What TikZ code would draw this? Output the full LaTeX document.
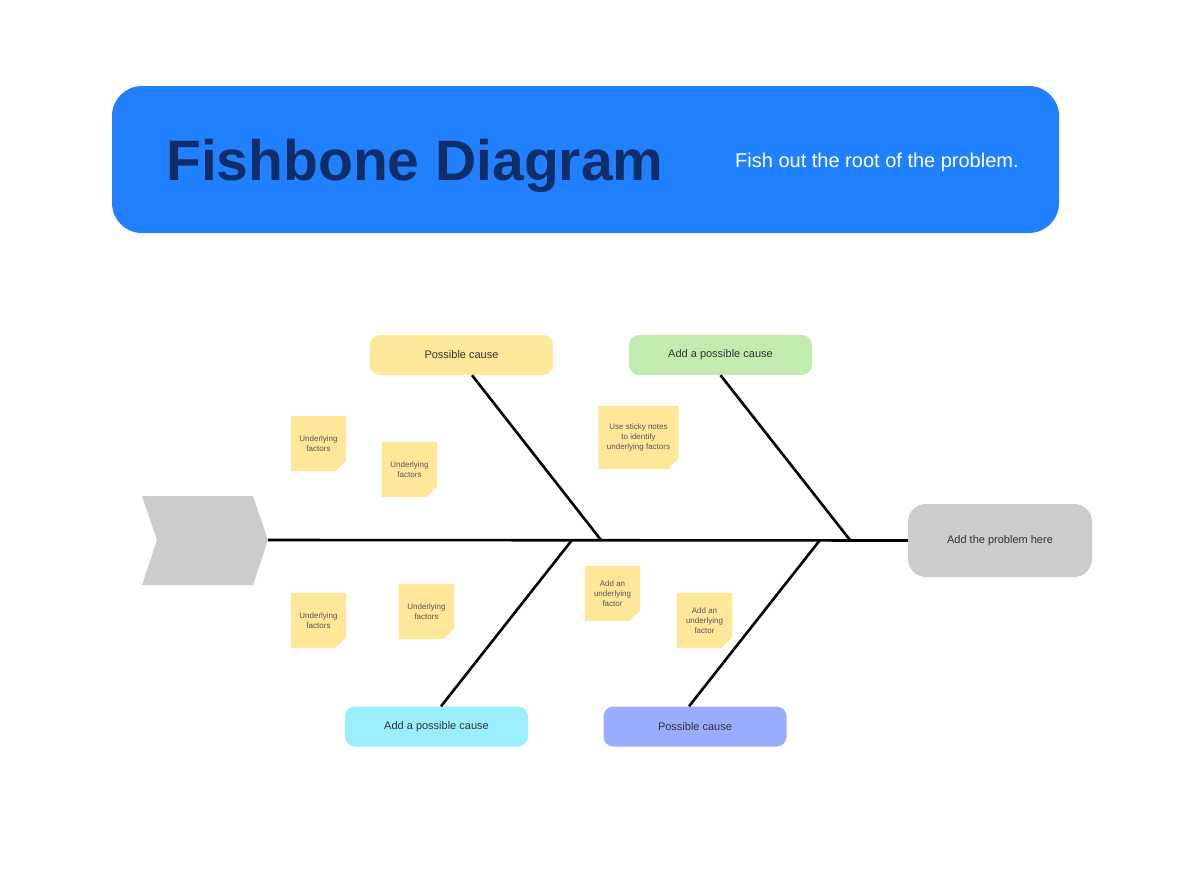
\documentclass[tikz,border=0pt]{standalone}
\usepackage{fontspec}
\setmainfont{Liberation Sans}
\usetikzlibrary{backgrounds}
\definecolor{titleblue}{HTML}{2180FF}
\definecolor{titlenavy}{HTML}{0F2D66}
\definecolor{stickyc}{HTML}{FFE699}
\definecolor{causeyellow}{HTML}{FFE89A}
\definecolor{causegreen}{HTML}{C2EBB0}
\definecolor{causecyan}{HTML}{9AEEFF}
\definecolor{causeblue}{HTML}{9AACFF}
\definecolor{shapegray}{HTML}{CCCCCC}
\definecolor{textgray}{HTML}{333333}
\definecolor{notegray}{HTML}{555555}
\newcommand\stickynote[6]{%
  \node[sticky, minimum width=#4, minimum height=#5] (#1) at (#2,#3) {#6};
  \begin{scope}[on background layer]
    \fill[stickyc] (#1.north west) -- (#1.north east) -- ([yshift=11pt]#1.south east) -- ([xshift=-11pt]#1.south east) -- (#1.south west) -- cycle;
  \end{scope}}
\begin{document}
\begin{tikzpicture}[x=1pt,y=-1pt,
  causebox/.style={rounded corners=10pt, minimum width=183pt, minimum height=40pt, inner sep=0pt, font=\fontsize{11}{13}\selectfont, text=textgray},
  sticky/.style={inner sep=0pt, align=center, font=\fontsize{8}{10.3}\selectfont, text=notegray},
  bone/.style={line width=2.6pt, black}]
\begin{scope}[on background layer]
  \fill[white] (0,0) rectangle (1200,887);
\end{scope}
\useasboundingbox (0,0) rectangle (1200,887);
% title banner
\node[fill=titleblue, rounded corners=30pt, minimum width=947pt, minimum height=147pt, inner sep=0pt] (banner) at (585.5,159.5) {};
\node[anchor=base west, inner sep=0pt, font=\fontsize{57}{60}\selectfont\bfseries, text=titlenavy] (title) at (166,180) {Fishbone Diagram};
\node[anchor=west, inner sep=0pt, font=\fontsize{20}{22}\selectfont, text=white] (subtitle) at (735,162) {Fish out the root of the problem.};
% tail
\fill[shapegray] (142,496) -- (253,496) -- (268,540) -- (253,585) -- (142,585) -- (157,540) -- cycle;
\coordinate (tail) at (268,540);
% problem
\node[fill=shapegray, rounded corners=18pt, minimum width=184pt, minimum height=73pt, inner sep=0pt, font=\fontsize{11}{13}\selectfont, text=textgray] (problem) at (1000,540.5) {Add the problem here};
% causes
\node[causebox, fill=causeyellow] (c1) at (461.5,355) {Possible cause};
\node[causebox, fill=causegreen] (c2) at (720.5,355) {Add a possible cause};
\node[causebox, fill=causecyan] (c3) at (436.5,726.5) {Add a possible cause};
\node[causebox, fill=causeblue] (c4) at (695,726.5) {Possible cause};
% spine
\draw[bone] (tail) -- (problem.west);
\coordinate (b1) at (601,540);
\coordinate (b2) at (850,540);
\coordinate (b3) at (572,540);
\coordinate (b4) at (820,540);
\draw[bone] ([xshift=10.5pt]c1.south) -- (b1);
\draw[bone] (c2.south) -- (b2);
\draw[bone] ([xshift=4.5pt]c3.north) -- (b3);
\draw[bone] ([xshift=-6pt]c4.north) -- (b4);
% sticky notes
\stickynote{s1}{318.5}{443.5}{55pt}{55pt}{Underlying\\factors}
\stickynote{s2}{409.5}{469.5}{55pt}{55pt}{Underlying\\factors}
\stickynote{s3}{638.5}{437.5}{80pt}{63pt}{Use sticky notes\\to identify\\underlying factors}
\stickynote{s4}{318.5}{620.5}{55pt}{55pt}{Underlying\\factors}
\stickynote{s5}{426.5}{611.5}{55pt}{55pt}{Underlying\\factors}
\stickynote{s6}{612.5}{593.5}{55pt}{55pt}{Add an\\underlying\\factor}
\stickynote{s7}{704.5}{620.5}{55pt}{55pt}{Add an\\underlying\\factor}
\end{tikzpicture}
\end{document}
